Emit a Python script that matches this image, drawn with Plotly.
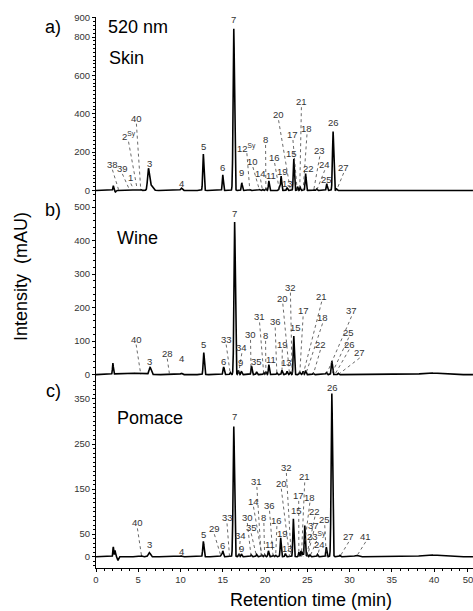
import numpy as np
import plotly.graph_objects as go

FONT = "Arial, 'Liberation Sans', sans-serif"

# ---------------- data ----------------
# retention-time grid of the detector trace (min)
t_grid = np.arange(0.0, 44.6, 0.005)

# Skin peaks: retention time (min), height (mAU), width (min)
skin_rt = [2.05, 2.3, 4.5, 4.9, 5.3, 6.2, 6.45, 10.1, 12.7, 15.0, 16.3, 17.25, 18.2, 19.35, 19.7,
           20.1, 20.45, 21.7, 21.9, 22.6, 23.4, 23.85, 24.15, 24.8, 25.75, 26.1, 27.3, 28.05, 28.45]
skin_h = [25, -8, 3, 3, 4, 100, 30, 12, 190, 82, 843, 40, 4, 5, 6,
          8, 50, 15, 75, 15, 165, 20, 17, 88, 5, 8, 35, 308, 8]
skin_w = [0.05, 0.06, 0.1, 0.1, 0.1, 0.1, 0.22, 0.1, 0.07, 0.06, 0.08, 0.06, 0.06, 0.06, 0.06,
          0.06, 0.06, 0.06, 0.06, 0.06, 0.065, 0.05, 0.05, 0.06, 0.06, 0.06, 0.06, 0.075, 0.06]

# Wine peaks
wine_rt = [2.0, 3.8, 6.4, 8.7, 10.1, 12.75, 15.1, 15.9, 16.4, 16.85, 17.2, 18.4, 19.0, 19.85, 20.1,
           20.45, 21.4, 22.0, 22.6, 23.0, 23.4, 24.1, 24.5, 24.8, 25.7, 27.25, 27.9, 28.65, 39.5]
wine_h = [33, 5, 21, 2, 4, 66, 23, 6, 455, 12, 10, 26, 8, 6, 8,
          30, 5, 13, 10, 8, 115, 8, 10, 12, 4, 6, 41, 4, 5]
wine_w = [0.05, 1.2, 0.12, 0.1, 0.1, 0.07, 0.07, 0.06, 0.08, 0.06, 0.06, 0.06, 0.06, 0.06, 0.06,
          0.06, 0.06, 0.06, 0.06, 0.06, 0.065, 0.06, 0.06, 0.06, 0.06, 0.06, 0.07, 0.06, 1.0]

# Pomace peaks
pom_rt = [2.05, 2.25, 2.6, 5.4, 6.3, 10.1, 12.7, 14.8, 15.0, 16.3, 16.9, 17.2, 18.35, 19.0, 19.6,
          19.95, 20.4, 20.95, 21.25, 21.85, 22.4, 23.35, 24.0, 24.25, 24.45, 24.7, 25.0, 25.3, 26.2,
          27.25, 27.9, 28.85, 30.8, 39.5]
pom_h = [22, 14, -8, 2, 9, 2, 34, 3, 13, 289, 6, 6, 4, 5, 4,
         4, 13, 3, 3, 42, 7, 84, 10, 13, 11, 69, 5, 4, 5,
         21, 362, 3, 3, 4]
pom_w = [0.05, 0.05, 0.07, 0.1, 0.12, 0.1, 0.07, 0.06, 0.06, 0.08, 0.06, 0.06, 0.06, 0.06, 0.06,
         0.06, 0.06, 0.06, 0.06, 0.06, 0.06, 0.065, 0.05, 0.05, 0.05, 0.06, 0.06, 0.06, 0.06,
         0.06, 0.08, 0.06, 0.2, 1.0]

# Peak labels: text, label time, label intensity, time the dotted leader points to (None = no leader)
skin_lbl = ["38", "39", "1", "2<sup>Sy</sup>", "40", "3", "4", "5", "6", "7", "12<sup>Sy</sup>", "10",
            "14", "9", "8", "11", "16", "19", "13", "15", "20", "17", "21", "18", "22", "23", "24",
            "25", "26", "27"]
skin_lbl_t = [1.94, 3.12, 4.12, 3.85, 4.78, 6.29, 10.17, 12.7, 15.0, 16.3, 17.85, 18.56,
              19.47, 17.25, 20.06, 20.65, 21.13, 22.04, 22.63, 23.1, 21.6, 23.3, 24.3, 24.96, 25.16,
              26.47, 27.06, 27.26, 28.05, 29.3]
skin_lbl_v = [137, 115, 65, 283, 377, 139, 35, 227, 120, 891, 223, 151,
              86, 94, 266, 77, 172, 99, 38, 194, 395, 292, 463, 321, 112,
              206, 134, 57, 352, 120]
skin_lbl_to = [2.7, 4.0, 4.5, 4.9, 5.3, None, None, None, None, None, 18.2, 19.35,
               19.7, None, 20.1, None, 21.7, None, None, None, 23.0, 23.8, 24.1, 24.5, None,
               25.75, 26.1, None, None, 28.45]

wine_lbl = ["40", "3", "28", "4", "5", "6", "33", "7", "34", "9", "30", "35", "31", "8", "11",
            "36", "19", "13", "20", "32", "15", "17", "21", "18", "22", "37", "25", "26", "27"]
wine_lbl_t = [4.75, 6.29, 8.43, 10.17, 12.7, 15.07, 15.4, 16.38, 17.25, 17.1, 18.28, 19.03,
              19.35, 20.06, 20.65, 21.2, 22.04, 22.59, 22.1, 23.0, 23.6, 24.5, 26.7, 26.8, 26.55,
              30.23, 29.9, 29.95, 31.2]
wine_lbl_v = [106, 40, 64, 49, 91, 40, 106, 480, 80, 37, 120, 40,
              172, 117, 46, 157, 91, 37, 228, 261, 141, 190, 234, 169, 90,
              190, 127, 91, 66]
wine_lbl_to = [5.3, None, 8.7, None, None, None, 15.9, None, 16.85, None, 18.35, None,
               19.85, 20.1, None, 21.4, 22.0, None, 22.9, 23.2, None, 24.1, 24.5, 24.8, 25.7,
               27.25, 27.85, 28.25, 28.65]

pom_lbl = ["40", "3", "4", "5", "29", "6", "33", "7", "34", "30", "9", "35", "31", "14", "8",
           "36", "11", "16", "19", "13", "20", "32", "15", "17", "21", "18", "22", "37",
           "23<sup>Sy</sup>", "24", "25", "26", "27", "41"]
pom_lbl_t = [4.9, 6.29, 10.17, 12.7, 14.0, 15.0, 15.5, 16.38, 17.05, 17.9, 17.17, 18.36,
             19.03, 18.63, 19.86, 20.53, 20.53, 21.4, 22.04, 22.63, 21.92, 22.52, 23.7, 23.98,
             24.69, 25.3, 25.9, 25.76, 26.1, 26.4, 27.06, 27.97, 29.9, 31.9]
pom_lbl_v = [75, 28, 11, 49, 62, 25, 86, 311, 47, 87, 19, 64,
             167, 123, 87, 114, 26, 80, 51, 19, 163, 198, 102, 136,
             177, 132, 101, 69, 47, 28, 82, 375, 45, 45]
pom_lbl_to = [5.4, None, None, None, 14.8, None, 15.8, None, 16.9, 18.35, None, 19.0,
              19.55, 19.65, 19.95, 20.95, None, 21.25, None, None, 22.9, 23.1, None, 24.0,
              24.3, 24.5, 24.9, 25.0, 25.3, 26.2, 27.25, None, 28.85, 30.8]

# axis ticks
x_tickvals = [0, 5, 10, 15, 20, 25, 30, 35, 40, 44]
x_ticktext = ["0", "5", "10", "15", "20", "25", "30", "35", "40", "50"]
skin_ticks = [0, 200, 400, 600, 800, 900]
wine_ticks = [0, 100, 200, 300, 400, 500]
pom_ticks = [0, 50, 150, 250, 350]

# ---------------- figure ----------------
W, H = 473, 611
ML, MR, MT, MB = 96, 0, 17, 43
PW, PH = W - ML - MR, H - MT - MB


def px(xp):
    return (xp - ML) / PW


def py(yp):
    return (H - MB - yp) / PH


def chrom(rt, h, w):
    y = np.zeros_like(t_grid)
    for r, a, s in zip(rt, h, w):
        y += a * np.exp(-0.5 * ((t_grid - r) / s) ** 2)
    return y


panels = [
    dict(rt=skin_rt, h=skin_h, w=skin_w, lbl=skin_lbl, lt=skin_lbl_t, lv=skin_lbl_v, lto=skin_lbl_to,
         ax="y", domain=[0.672, 1.0], rng=[-38, 905], ticks=skin_ticks, minor=20),
    dict(rt=wine_rt, h=wine_h, w=wine_w, lbl=wine_lbl, lt=wine_lbl_t, lv=wine_lbl_v, lto=wine_lbl_to,
         ax="y2", domain=[0.336, 0.672], rng=[-24.7, 527.8], ticks=wine_ticks, minor=20),
    dict(rt=pom_rt, h=pom_h, w=pom_w, lbl=pom_lbl, lt=pom_lbl_t, lv=pom_lbl_v, lto=pom_lbl_to,
         ax="y3", domain=[0.0, 0.336], rng=[-25.1, 385.7], ticks=pom_ticks, minor=10),
]

fig = go.Figure()
annotations = []
shapes = []
layout_axes = {}

for i, p in enumerate(panels):
    fig.add_trace(go.Scatter(x=t_grid, y=chrom(p["rt"], p["h"], p["w"]), mode="lines",
                             line=dict(color="black", width=1.6), yaxis=p["ax"], xaxis="x",
                             showlegend=False, hoverinfo="skip"))
    span = p["rng"][1] - p["rng"][0]
    dom_px = (p["domain"][1] - p["domain"][0]) * PH
    off = 5.5 * span / dom_px  # half label height in data units
    for txt, lt, lv, lto in zip(p["lbl"], p["lt"], p["lv"], p["lto"]):
        annotations.append(dict(x=lt, y=lv, xref="x", yref=p["ax"], text=txt, showarrow=False,
                                font=dict(family=FONT, size=9.5, color="#333"),
                                xanchor="center", yanchor="middle"))
        if lto is not None:
            shapes.append(dict(type="line", xref="x", yref=p["ax"], x0=lt, y0=lv - off,
                               x1=lto, y1=0, line=dict(color="#444", width=0.8, dash="dot")))
    name = "yaxis" if i == 0 else "yaxis%d" % (i + 1)
    layout_axes[name] = dict(domain=p["domain"], range=p["rng"], anchor="x",
                             tickmode="array", tickvals=p["ticks"], ticks="outside", ticklen=3,
                             tickcolor="black", showline=True, linecolor="black", linewidth=1,
                             showgrid=False, zeroline=False,
                             tickfont=dict(family=FONT, size=9.5, color="#333"),
                             minor=dict(ticks="outside", ticklen=2, dtick=p["minor"], tick0=0,
                                        tickcolor="black", showgrid=False))

layout_axes["xaxis"] = dict(range=[0, 44.6], anchor="y3", tickmode="array", tickvals=x_tickvals,
                            ticktext=x_ticktext, ticks="outside", ticklen=3, tickcolor="black",
                            showline=True, linecolor="black", linewidth=1, showgrid=False,
                            zeroline=False, tickfont=dict(family=FONT, size=9.5, color="#333"),
                            ticklabeloverflow="allow",
                            minor=dict(ticks="outside", ticklen=2, dtick=1, tick0=0,
                                       tickcolor="black", showgrid=False))

big = dict(family=FONT, size=18, color="black")
texts = [("a)", 53, 27, "center"), ("520 nm", 106, 27, "left"), ("Skin", 107, 58, "left"),
         ("b)", 53, 210, "center"), ("Wine", 115, 238, "left"),
         ("c)", 53, 391, "center"), ("Pomace", 115, 418, "left")]
for txt, xp, yp, anc in texts:
    annotations.append(dict(x=px(xp), y=py(yp), xref="paper", yref="paper", text=txt,
                            showarrow=False, font=big, xanchor=anc, yanchor="middle"))

annotations.append(dict(x=px(21), y=py(277), xref="paper", yref="paper", text="Intensity  (mAU)",
                        showarrow=False, font=big, textangle=-90, xanchor="center", yanchor="middle"))
annotations.append(dict(x=px(311), y=py(600), xref="paper", yref="paper", text="Retention time (min)",
                        showarrow=False, font=big, xanchor="center", yanchor="middle"))

fig.update_layout(width=W, height=H, margin=dict(l=ML, r=MR, t=MT, b=MB, pad=0),
                  paper_bgcolor="white", plot_bgcolor="white", showlegend=False,
                  annotations=annotations, shapes=shapes, **layout_axes)

fig.write_html("out.html")
